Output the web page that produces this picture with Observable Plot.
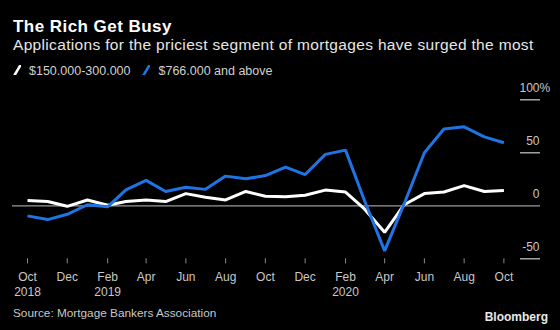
<!DOCTYPE html>
<html>
<head>
<meta charset="utf-8">
<script src="https://cdn.jsdelivr.net/npm/d3@7"></script>
<script src="https://cdn.jsdelivr.net/npm/@observablehq/plot@0.6"></script>
<style>
  html, body { margin: 0; padding: 0; background: #000; }
  #wrap { position: relative; width: 560px; height: 330px; background: #000; overflow: hidden;
          font-family: "Liberation Sans", Arial, sans-serif; }
  .abs { position: absolute; white-space: nowrap; }
  #title { left: 13px; top: 18px; font-size: 17px; line-height: 17px; font-weight: bold; color: #fff; letter-spacing: 0.45px; }
  #subtitle { left: 13px; top: 37px; font-size: 15.5px; line-height: 15.5px; color: #e6e6e6; letter-spacing: 0.33px; }
  #legend { left: 13px; top: 65px; font-size: 12.5px; line-height: 12.5px; color: #d0d0d0; display: flex; align-items: center; }
  #legend svg { margin-right: 8px; }
  #legend span.item { margin-right: 12px; }
  #chart { position: absolute; left: 0; top: 75px; }
  #source { left: 13px; top: 307px; font-size: 11.8px; line-height: 12px; color: #c8c8c8; }
  #brand { right: 12px; top: 311px; font-size: 12px; line-height: 12px; font-weight: bold; color: #e8e8e8; }
</style>
</head>
<body>
<div id="wrap">
  <div id="title" class="abs">The Rich Get Busy</div>
  <div id="subtitle" class="abs">Applications for the priciest segment of mortgages have surged the most</div>
  <div id="legend" class="abs"></div>
  <div id="chart"></div>
  <div id="source" class="abs">Source: Mortgage Bankers Association</div>
  <div id="brand" class="abs">Bloomberg</div>
</div>
<script>
// ---- data ----
const months = ["2018-10","2018-11","2018-12","2019-01","2019-02","2019-03","2019-04","2019-05","2019-06","2019-07","2019-08","2019-09","2019-10","2019-11","2019-12","2020-01","2020-02","2020-03","2020-04","2020-05","2020-06","2020-07","2020-08","2020-09","2020-10"];
const seriesNames = ["$150,000-300,000", "$766,000 and above"];
const seriesColors = ["#ffffff", "#1f74e4"];
const low = [5, 4, -0.5, 5.5, 0.5, 4, 5.5, 4, 11.5, 8, 5.5, 13.5, 9, 8.5, 10, 14.8, 13, -3, -25, 1, 11.5, 13, 19, 13.5, 14.5];
const high = [-9.5, -13, -8, 1, -1, 15, 24, 13.5, 17.5, 15.5, 28, 25.5, 28.5, 36.5, 29.5, 48.5, 52.5, 5, -42.5, 2, 50, 72.5, 74.5, 65, 59.5];
const xTickMonths = ["2018-10","2018-12","2019-02","2019-04","2019-06","2019-08","2019-10","2019-12","2020-02","2020-04","2020-06","2020-08","2020-10"];
const xTickLabels = ["Oct\n2018","Dec","Feb\n2019","Apr","Jun","Aug","Oct","Dec","Feb\n2020","Apr","Jun","Aug","Oct"];
const yTickValues = [-50, 0, 50, 100];
const yShortTicks = [-50, 50, 100];

// ---- build ----
const parse = s => new Date(s + "-01T00:00:00Z");
const rows = [];
[low, high].forEach((vals, si) => vals.forEach((v, i) => rows.push({date: parse(months[i]), value: v, series: seriesNames[si]})));
const tickDates = xTickMonths.map(parse);
const labelMap = new Map(tickDates.map((d, i) => [+d, xTickLabels[i]]));

// legend
const legend = document.getElementById("legend");
seriesNames.forEach((name, i) => {
  const item = document.createElement("span");
  item.className = "item";
  item.style.display = "inline-flex";
  item.style.alignItems = "center";
  item.innerHTML = `<svg width="8" height="12" viewBox="0 0 8 12"><line x1="1" y1="11" x2="7" y2="1" stroke="${seriesColors[i]}" stroke-width="2.6" stroke-linecap="round"/></svg>`;
  item.appendChild(document.createTextNode(name));
  legend.appendChild(item);
});

const chart = Plot.plot({
  width: 560,
  height: 225,
  marginLeft: 12,
  marginRight: 20,
  marginTop: 24.3,
  marginBottom: 41.7,
  style: {background: "#000", color: "#c8c8c8", fontFamily: "'Liberation Sans', Arial, sans-serif", fontSize: "12px", overflow: "visible"},
  x: {type: "utc", domain: [parse(months[0]), parse(months[months.length - 1])], range: [27, 503.4]},
  y: {domain: [-50, 100]},
  color: {domain: seriesNames, range: seriesColors},
  marks: [
    Plot.ruleY([0], {stroke: "#9a9a9a", strokeWidth: 1.3}),
    Plot.ruleY(yShortTicks, {stroke: "#bdbdbd", strokeWidth: 1.3, insetLeft: 508}),
    Plot.axisY(yTickValues, {anchor: "right", tickSize: 0, tickPadding: -1, textAnchor: "end", dy: -11.5,
      tickFormat: d => String(d), fill: "#c8c8c8", fontSize: 12, label: null}),
    Plot.text([100], {y: d => d, text: () => "%", frameAnchor: "right", textAnchor: "start", dx: -1, dy: -11.5, fill: "#c8c8c8", fontSize: 12}),
    Plot.axisX(tickDates, {anchor: "bottom", tickSize: 5, tickPadding: 6.5, stroke: "#8a8a8a",
      tickFormat: d => labelMap.get(+d), lineHeight: 1.25, fill: "#c8c8c8", fontSize: 12, label: null}),
    Plot.line(rows, {x: "date", y: "value", z: "series", stroke: "series", strokeWidth: 3, strokeLinejoin: "miter", strokeLinecap: "butt"})
  ]
});
document.getElementById("chart").appendChild(chart);
</script>
</body>
</html>
